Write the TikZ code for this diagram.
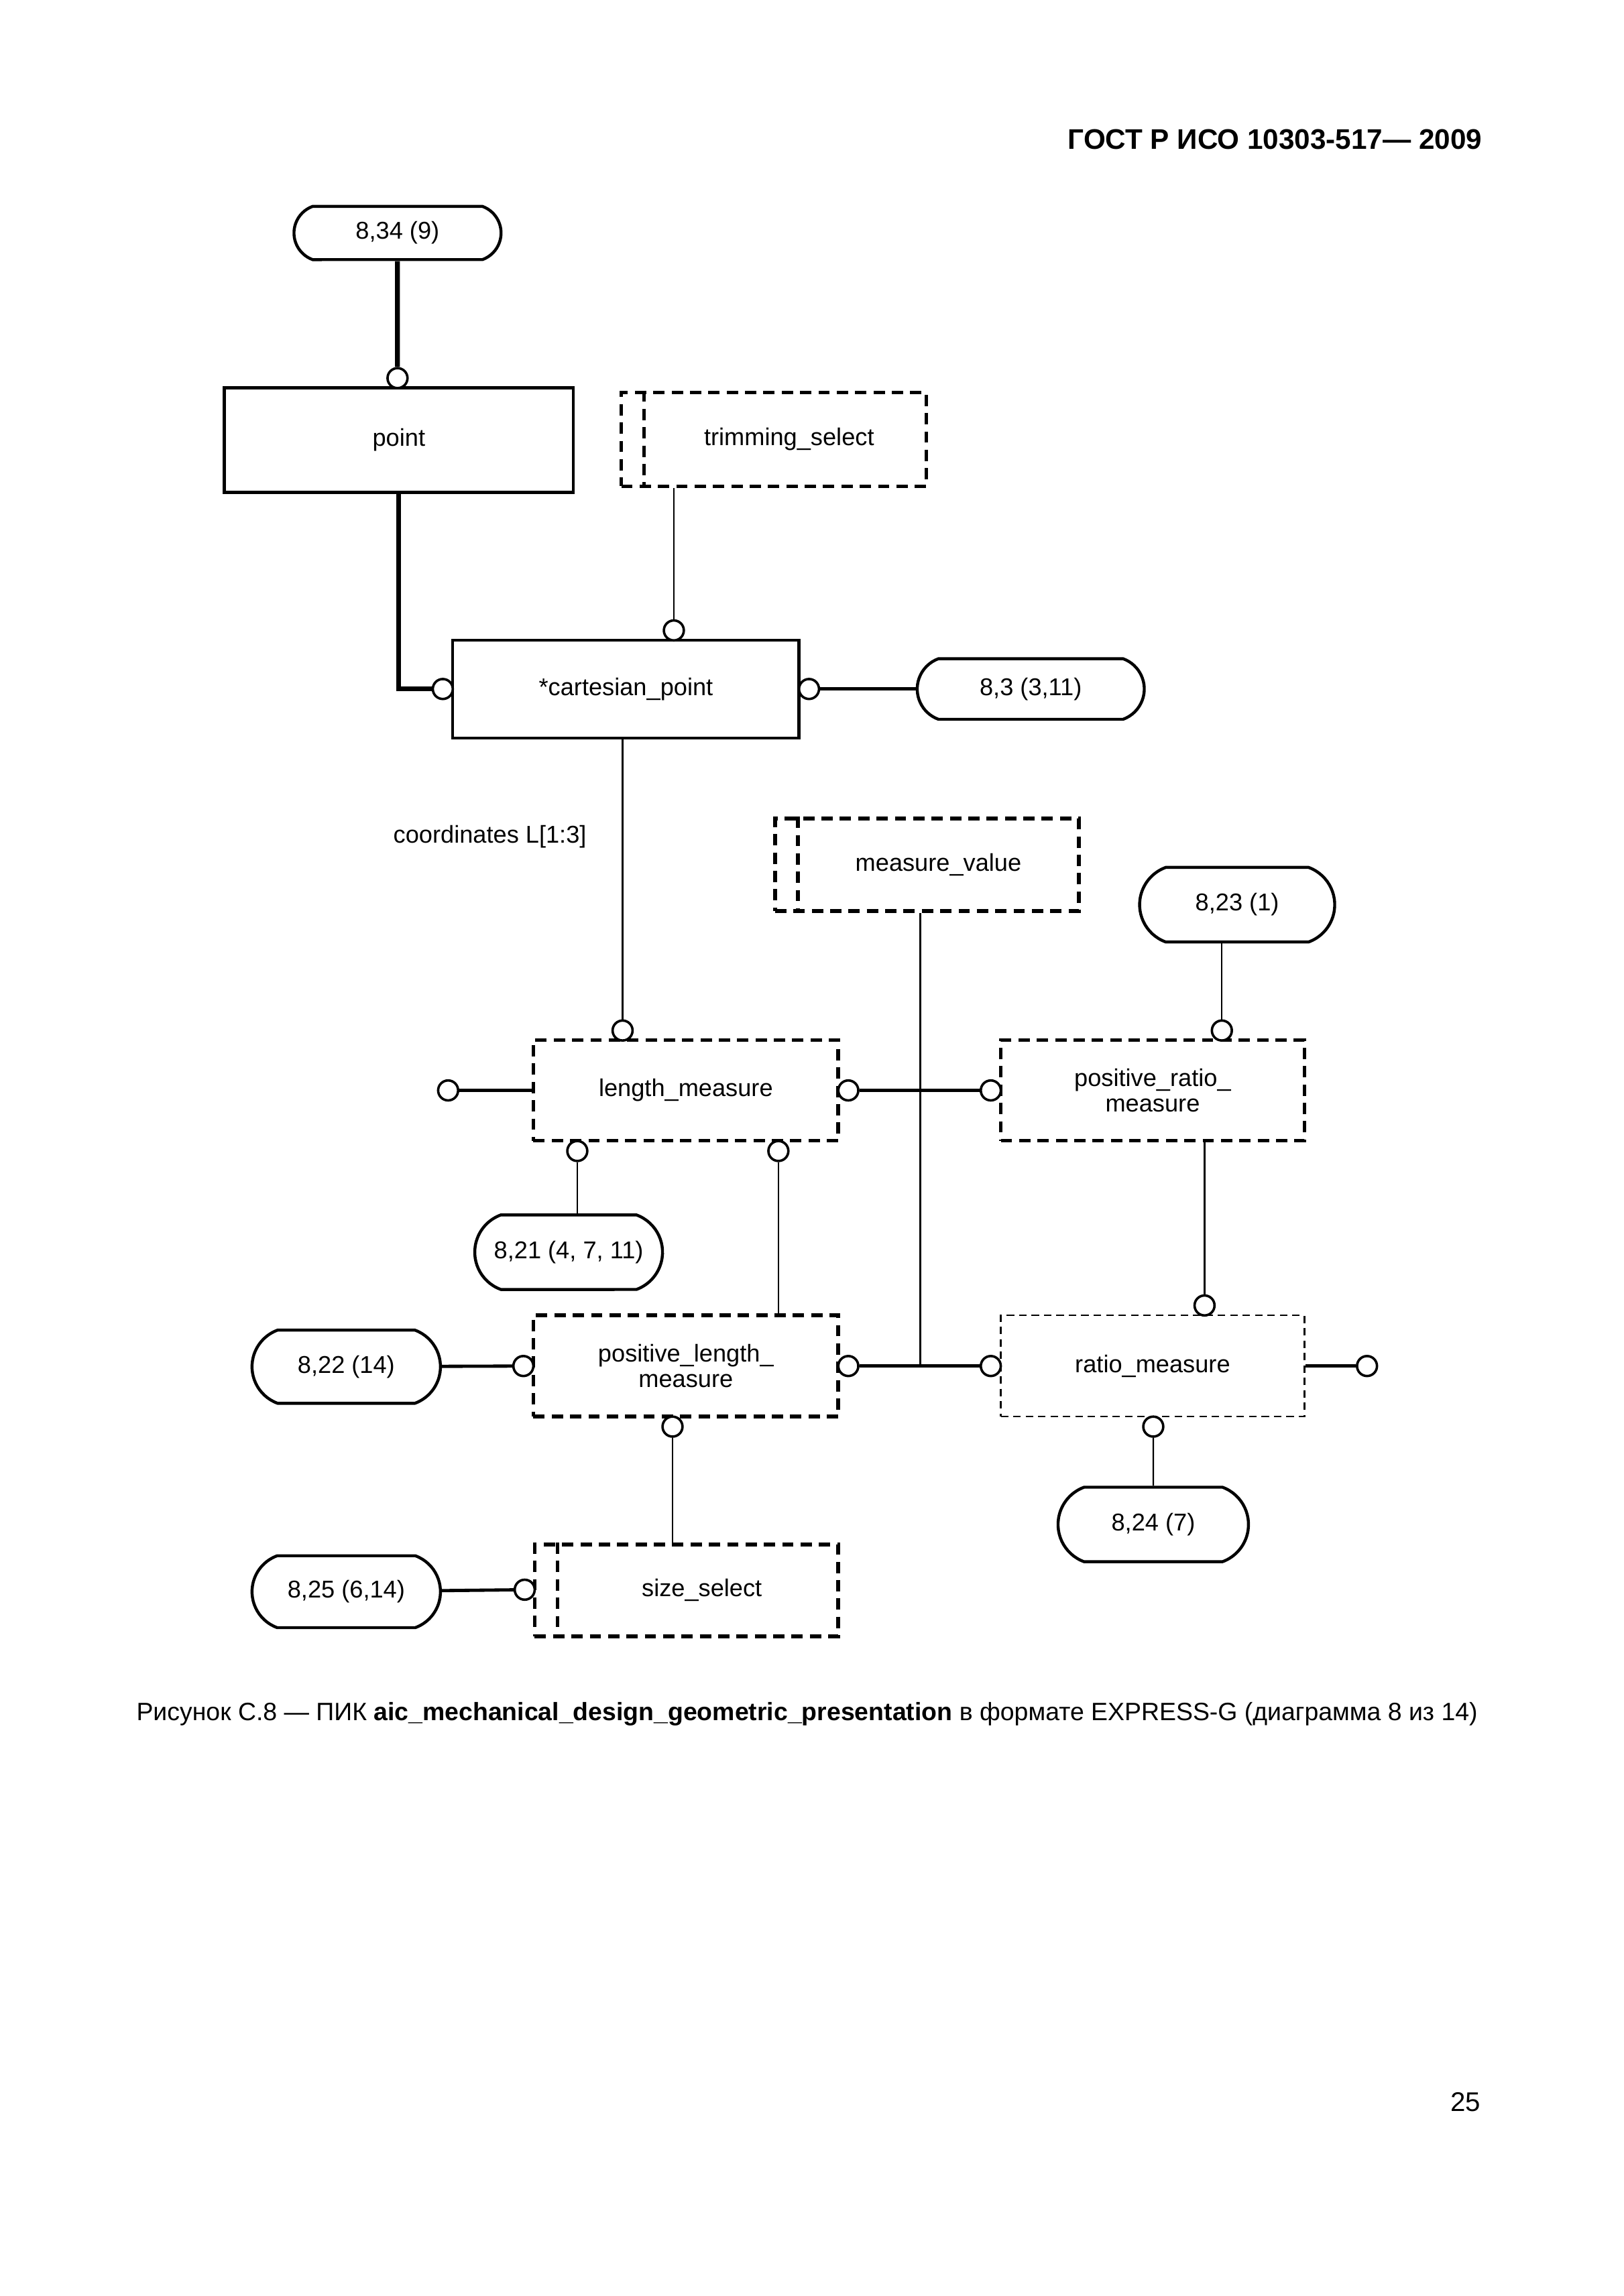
\documentclass[tikz,border=0pt]{standalone}
\usepackage{fontspec}
\setmainfont{Liberation Sans}
\usetikzlibrary{shapes.misc, positioning}
\newcommand{\pxu}{0.08674mm}

\begin{document}
\begin{tikzpicture}[x=0.08674mm, y=-0.08674mm,
  every node/.style={font=\fontsize{9}{9.6}\selectfont},
  ent/.style={draw, line width=1.1pt, inner sep=0pt, align=center},
  typ/.style={ent, line width=1.4pt, dash pattern=on 4.2pt off 2.6pt},
  thintyp/.style={ent, line width=0.6pt, dash pattern=on 2.8pt off 1.8pt},
  ref/.style={draw, rounded rectangle, rounded rectangle arc length=140, line width=1.1pt, inner sep=0pt},
  ring/.style={draw, circle, fill=white, inner sep=0pt, minimum size=7.4pt, line width=0.9pt},
  rel/.style={line width=0.6pt},
  relb/.style={line width=1.2pt},
  relp/.style={line width=1.8pt}]
\useasboundingbox (0,0) rectangle (2438,3449);

% header, caption, page number
\node[anchor=east, font=\fontsize{10.5}{12}\bfseries\selectfont] (hdr) at (2240,209) {ГОСТ Р ИСО 10303-517— 2009};
\node[font=\fontsize{9.3}{12}\selectfont] (cap) at (1212,2575) {Рисунок С.8 — ПИК \textbf{aic\_mechanical\_design\_geometric\_presentation} в формате EXPRESS-G (диаграмма 8 из 14)};
\node[font=\fontsize{10}{12}\selectfont] (pg) at (2201,3158) {25};

% entities and types
\node[ent, minimum width=524*\pxu, minimum height=157*\pxu] (point) at (599,661) {point};
\node[typ, minimum width=458*\pxu, minimum height=141*\pxu] (trim) at (1162,660) {\hspace{4mm}trimming\_select};
\node[ent, minimum width=520*\pxu, minimum height=147*\pxu] (cart) at (940,1035) {*cartesian\_point};
\node[typ, minimum width=456*\pxu, minimum height=139*\pxu] (mv) at (1392,1299) {\hspace{3mm}measure\_value};
\node[typ, minimum width=458*\pxu, minimum height=151*\pxu] (len) at (1030,1638) {length\_measure};
\node[typ, minimum width=456*\pxu, minimum height=151*\pxu] (pr) at (1731,1638) {positive\_ratio\_\\measure};
\node[typ, minimum width=458*\pxu, minimum height=152*\pxu] (pl) at (1030,2052) {positive\_length\_\\measure};
\node[thintyp, minimum width=456*\pxu, minimum height=152*\pxu] (rm) at (1731,2052) {ratio\_measure};
\node[typ, minimum width=456*\pxu, minimum height=138*\pxu] (ss) at (1031,2389) {\hspace{4mm}size\_select};
\foreach \s in {trim, mv, ss}
  \draw[line width=1.4pt, dash pattern=on 4.2pt off 2.6pt] ([xshift=37*\pxu]\s.north west) -- ([xshift=37*\pxu]\s.south west);

% page references
\node[ref, minimum width=311*\pxu, minimum height=80*\pxu] (o834) at (597,350) {8,34 (9)};
\node[ref, minimum width=341*\pxu, minimum height=91*\pxu] (o83) at (1548,1035) {8,3 (3,11)};
\node[ref, minimum width=293*\pxu, minimum height=112*\pxu] (o823) at (1858,1359) {8,23 (1)};
\node[ref, minimum width=282*\pxu, minimum height=112*\pxu] (o821) at (854,1881) {8,21 (4, 7, 11)};
\node[ref, minimum width=283*\pxu, minimum height=110*\pxu] (o822) at (520,2053) {8,22 (14)};
\node[ref, minimum width=286*\pxu, minimum height=112*\pxu] (o824) at (1732,2290) {8,24 (7)};
\node[ref, minimum width=283*\pxu, minimum height=108*\pxu] (o825) at (520,2391) {8,25 (6,14)};

% relationship ends
\node[ring] (rpt) at (597,568) {};
\node[ring] (rct) at (1012,947) {};
\node[ring] (rcl) at (665,1035) {};
\node[ring] (rcr) at (1215,1035) {};
\node[ring] (rlt) at (935,1548) {};
\node[ring] (rll) at (673,1638) {};
\node[ring] (rlr) at (1274,1638) {};
\node[ring] (rpl) at (1488,1638) {};
\node[ring] (rpt2) at (1835,1548) {};
\node[ring] (rlb1) at (867,1729) {};
\node[ring] (rlb2) at (1169,1729) {};
\node[ring] (rmt) at (1809,1961) {};
\node[ring] (rgl) at (786,2052) {};
\node[ring] (rgr) at (1274,2052) {};
\node[ring] (rml) at (1488,2052) {};
\node[ring] (rmr) at (2053,2052) {};
\node[ring] (rmb) at (1732,2143) {};
\node[ring] (rgb) at (1010,2143) {};
\node[ring] (rsl) at (788,2388) {};
\coordinate (jn) at (1382,2052);

% relationships
\draw[relp] (o834) -- (rpt);
\draw[relp] (point.south) |- (rcl);
\draw[rel] (trim.south -| rct) -- (rct);
\draw[relb] (rcr) -- (o83);
\draw[rel] (cart.south -| rlt) -- (rlt);
\node[anchor=east] (lbl) at (895,1257) {coordinates L[1:3]};
\draw[relb] (rll) -- (len);
\draw[relb] (rlr) -- (rpl);
\draw[rel] (o823.south -| rpt2) -- (rpt2);
\draw[rel] (rlb1) -- (o821.north -| rlb1);
\draw[rel] (rlb2) -- (pl.north -| rlb2);
\draw[rel] (pr.south -| rmt) -- (rmt);
\draw[relb] (o822) -- (rgl);
\draw[relb] (rgr) -- (rml);
\draw[rel] (mv.south -| jn) -- (jn);
\draw[relb] (rm) -- (rmr);
\draw[rel] (rmb) -- (o824);
\draw[rel] (rgb) -- (ss.north -| rgb);
\draw[relb] (o825) -- (rsl);
\end{tikzpicture}
\end{document}
